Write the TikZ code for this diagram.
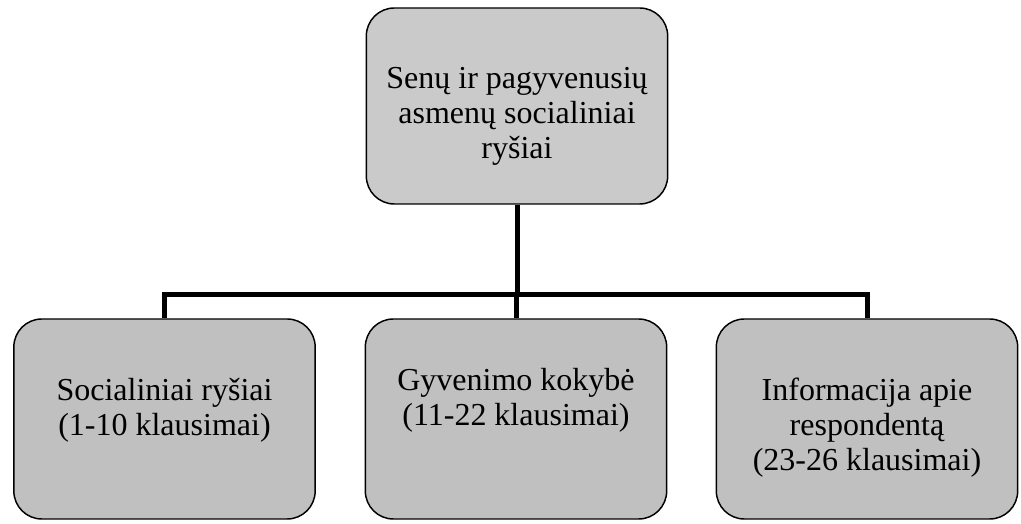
\documentclass[tikz,border=0pt]{standalone}
\usepackage{fontspec}
\setmainfont{Liberation Serif}
\definecolor{boxgray}{HTML}{C0C0C0}
\definecolor{topgray}{HTML}{CACACA}
\tikzset{
  part/.style={draw, line width=1.1pt, rounded corners=21pt, fill=boxgray,
    minimum width=226pt, minimum height=150pt},
  label/.style={align=center, font=\fontsize{24}{26.3}\selectfont},
  link/.style={line width=3.75pt}
}
\begin{document}
\begin{tikzpicture}[x=0.75pt,y=0.75pt]
  \useasboundingbox (0,0) rectangle (1021,524);

  % boxes
  \node[part, fill=topgray, minimum height=147pt] (top) at (517,418) {};
  \node[part] (left) at (164.5,105) {};
  \node[part] (mid) at (516,105) {};
  \node[part] (right) at (867,105) {};

  % texts
  \node[label, yshift=-7.5pt] (top-text) at (top) {Senų ir pagyvenusių\\asmenų socialiniai\\ryšiai};
  \node[label, yshift=6.75pt] (left-text) at (left) {Socialiniai ryšiai\\(1-10 klausimai)};
  \node[label, yshift=14pt] (mid-text) at (mid) {Gyvenimo kokybė\\(11-22 klausimai)};
  \node[label, yshift=-6.75pt] (right-text) at (right) {Informacija apie\\respondentą\\(23-26 klausimai)};

  \coordinate (bar) at (517,229);
  \draw[link] (top.south) -- (top.south |- bar);
  \draw[link] (mid.north) -- (mid.north |- bar);
  \draw[link] (left.north) -- (left.north |- bar) -- (right.north |- bar) -- (right.north);
\end{tikzpicture}
\end{document}
